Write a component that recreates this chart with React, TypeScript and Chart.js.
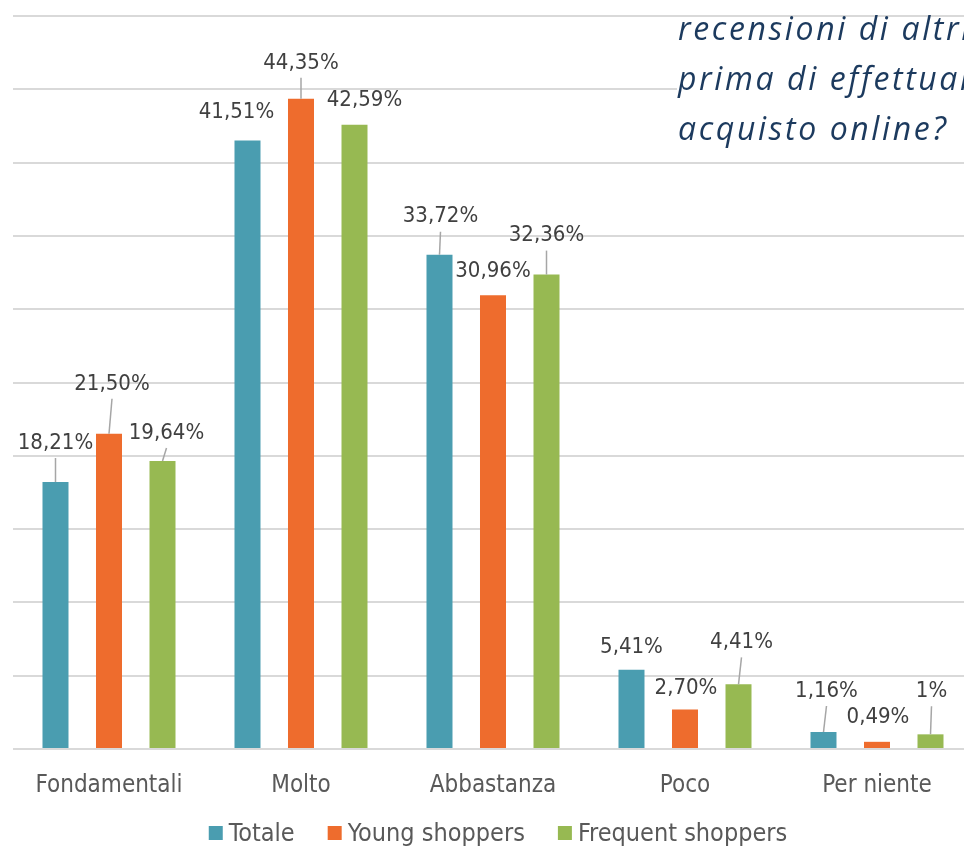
import React, { useEffect, useRef } from "react";
import { Chart, registerables } from "chart.js";

Chart.register(...registerables);

const categories = ["Fondamentali", "Molto", "Abbastanza", "Poco", "Per niente"];
const seriesNames = ["Totale", "Young shoppers", "Frequent shoppers"];
const totale = [18.21, 41.51, 33.72, 5.41, 1.16];
const young = [21.5, 44.35, 30.96, 2.7, 0.49];
const frequent = [19.64, 42.59, 32.36, 4.41, 1];
const yTicks = [0, 5, 10, 15, 20, 25, 30, 35, 40, 45, 50];
const titleLines = ["recensioni di altri", "prima di effettuare un", "acquisto online?"];

const colors = ["#4a9db0", "#ee6c2d", "#97b952"];

// label placement (pixels relative to bar top centre) and leader flag, per series
const labelDx = [
  [0, -11, 1, 0, 3],
  [3, 0, 0, 1, 1],
  [4, 10, 0, 3, 1],
];
const labelDy = [
  [-39, -28, -38, -22, -41],
  [-50, -36, -24, -21, -25],
  [-28, -24, -39, -42, -43],
];
const leader = [
  [true, false, true, false, true],
  [true, true, false, false, false],
  [true, false, true, true, true],
];

const FONT = "'DejaVu Sans Condensed', 'DejaVu Sans', sans-serif";

const fmt = (v: number) =>
  (Number.isInteger(v) ? String(v) : v.toFixed(2).replace(".", ",")) + "%";

const labelPlugin = {
  id: "valueLabels",
  afterDatasetsDraw(chart: any) {
    const ctx = chart.ctx;
    ctx.save();
    chart.data.datasets.forEach((ds: any, di: number) => {
      const meta = chart.getDatasetMeta(di);
      meta.data.forEach((bar: any, i: number) => {
        const lx = bar.x + labelDx[di][i];
        const ly = bar.y + labelDy[di][i];
        if (leader[di][i]) {
          ctx.strokeStyle = "#a6a6a6";
          ctx.lineWidth = 1.5;
          ctx.beginPath();
          ctx.moveTo(lx, ly + 15);
          ctx.lineTo(bar.x, bar.y);
          ctx.stroke();
        }
        ctx.font = `22px ${FONT}`;
        ctx.fillStyle = "#404040";
        ctx.textAlign = "center";
        ctx.textBaseline = "middle";
        ctx.fillText(fmt(ds.data[i]), lx, ly);
      });
    });
    ctx.restore();
  },
};

const legendPlugin = {
  id: "customLegend",
  afterDraw(chart: any) {
    const ctx = chart.ctx;
    ctx.save();
    ctx.font = `25px ${FONT}`;
    const box = 14;
    const gap = 6;
    const spacing = 33;
    const items = chart.data.datasets.map((ds: any) => ({
      label: ds.label,
      color: ds.backgroundColor,
      w: box + gap + ctx.measureText(ds.label).width,
    }));
    const total = items.reduce((s: number, it: any) => s + it.w, 0) + spacing * (items.length - 1);
    const cx = (chart.chartArea.left + chart.chartArea.right) / 2 + 5;
    let x = cx - total / 2;
    const y = 833;
    items.forEach((it: any) => {
      ctx.fillStyle = it.color;
      ctx.fillRect(x, y - box / 2, box, box);
      ctx.fillStyle = "#595959";
      ctx.textAlign = "left";
      ctx.textBaseline = "middle";
      ctx.fillText(it.label, x + box + gap, y + 1);
      x += it.w + spacing;
    });
    ctx.restore();
  },
};

export default function App() {
  const ref = useRef<HTMLCanvasElement | null>(null);
  useEffect(() => {
    if (!ref.current) return;
    const chart = new Chart(ref.current, {
      type: "bar",
      data: {
        labels: categories,
        datasets: [totale, young, frequent].map((d, i) => ({
          label: seriesNames[i],
          data: d,
          backgroundColor: colors[i],
          borderWidth: 0,
          categoryPercentage: 0.836,
          barPercentage: 0.486,
        })),
      },
      options: {
        responsive: false,
        animation: false,
        layout: { padding: { left: 13, right: 0, top: 16, bottom: 24.2 } },
        plugins: { legend: { display: false }, tooltip: { enabled: false } },
        scales: {
          x: {
            grid: { display: false, drawTicks: false },
            border: { display: false },
            ticks: {
              color: "#595959",
              font: { family: FONT, size: 24 },
              padding: 22,
              maxRotation: 0,
            },
          },
          y: {
            min: 0,
            max: 50,
            afterBuildTicks: (axis: any) => {
              axis.ticks = yTicks.map((v) => ({ value: v }));
            },
            grid: { color: "#d9d9d9", lineWidth: 2, drawTicks: false },
            border: { display: false },
            ticks: { display: false },
          },
        },
      },
      plugins: [labelPlugin, legendPlugin],
    });
    return () => chart.destroy();
  }, []);

  return (
    <div
      style={{
        position: "fixed",
        left: 0,
        top: 0,
        width: 964,
        height: 846,
        overflow: "hidden",
        background: "#ffffff",
      }}
    >
      <canvas ref={ref} width={973} height={846} style={{ display: "block" }} />
      <div
        style={{
          position: "absolute",
          left: 677,
          top: 18,
          width: 400,
          height: 137,
          background: "#ffffff",
        }}
      />
      <div
        style={{
          position: "absolute",
          left: 678,
          top: 3,
          whiteSpace: "nowrap",
          fontFamily: "'Open Sans', sans-serif",
          fontStyle: "italic",
          fontWeight: 500,
          fontSize: 32,
          letterSpacing: 2.6,
          lineHeight: "50px",
          color: "#1c3a5e",
        }}
      >
        {titleLines.map((t, i) => (
          <div key={i}>{t}</div>
        ))}
      </div>
    </div>
  );
}
